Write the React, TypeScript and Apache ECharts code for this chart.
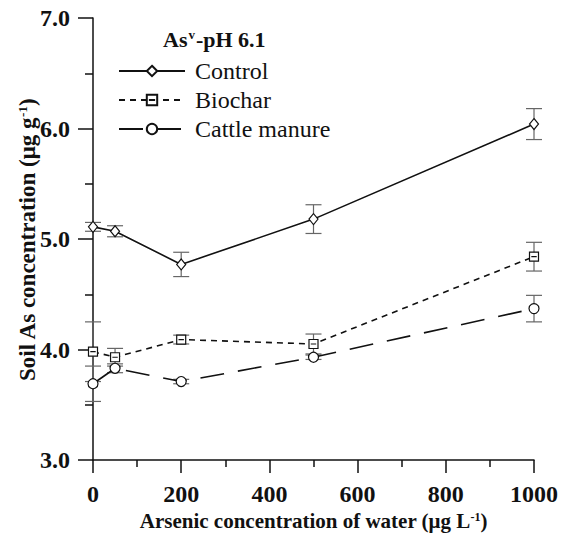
import React, { useEffect, useRef } from "react";
import * as echarts from "echarts";

const xValues = [0, 50, 200, 500, 1000];
const seriesNames = ["Control", "Biochar", "Cattle manure"];
const controlMean = [5.11, 5.07, 4.77, 5.18, 6.04];
const controlErr = [0.04, 0.05, 0.11, 0.13, 0.14];
const biocharMean = [3.98, 3.93, 4.09, 4.05, 4.84];
const biocharErr = [0.27, 0.08, 0.04, 0.09, 0.13];
const manureMean = [3.69, 3.83, 3.71, 3.93, 4.37];
const manureErr = [0.16, 0.04, 0.02, 0.02, 0.12];

const FONT = "Liberation Serif";

export default function App() {
  const ref = useRef<HTMLDivElement>(null);
  useEffect(() => {
    if (!ref.current) return;
    const chart = echarts.init(ref.current, undefined, { renderer: "svg" });

    const means = [controlMean, biocharMean, manureMean];
    const errs = [controlErr, biocharErr, manureErr];
    const symbols = [
      "diamond",
      "path://M0,0L10,0L10,10L0,10Z M2,5L8,5",
      "circle",
    ];
    const symbolSizes: any[] = [[9, 11], 9, 10];
    const dashes: any[] = ["solid", [6, 5], [24, 14]];

    const errorSeries = means.map((m, i) => ({
      type: "custom",
      name: seriesNames[i] + " err",
      silent: true,
      z: 1,
      data: xValues.map((x, k) => [x, m[k] - errs[i][k], m[k] + errs[i][k]]),
      renderItem: (params: any, api: any) => {
        const x = api.value(0);
        const lo = api.coord([x, api.value(1)]);
        const hi = api.coord([x, api.value(2)]);
        const w = 8;
        const style = { stroke: "#666", lineWidth: 1.2 };
        return {
          type: "group",
          children: [
            { type: "line", shape: { x1: hi[0], y1: hi[1], x2: lo[0], y2: lo[1] }, style },
            { type: "line", shape: { x1: hi[0] - w, y1: hi[1], x2: hi[0] + w, y2: hi[1] }, style },
            { type: "line", shape: { x1: lo[0] - w, y1: lo[1], x2: lo[0] + w, y2: lo[1] }, style },
          ],
        };
      },
    }));

    const lineSeries = means.map((m, i) => ({
      type: "line",
      name: seriesNames[i],
      z: 3,
      data: xValues.map((x, k) => [x, m[k]]),
      symbol: symbols[i],
      symbolSize: symbolSizes[i],
      showAllSymbol: true,
      itemStyle: { color: "#fff", borderColor: "#111", borderWidth: 1.2 },
      lineStyle: { color: "#111", width: 1.6, type: dashes[i] },
    }));

    const supStyle = { fontFamily: FONT, fontWeight: "bold", fontSize: 12, color: "#111", verticalAlign: "top", padding: [0, 0, 8, 0] };
    const boldLabel = { fontFamily: FONT, fontWeight: "bold", fontSize: 24, color: "#111" };

    chart.setOption({
      animation: false,
      backgroundColor: "#fff",
      textStyle: { fontFamily: FONT },
      grid: { left: 93, right: 28, top: 18, bottom: 80, containLabel: false },
      graphic: [
        {
          type: "text",
          left: 163,
          top: 28,
          style: {
            text: "{b|As}{s|v}{b|-pH 6.1}",
            rich: {
              b: { fontFamily: FONT, fontWeight: "bold", fontSize: 22, fill: "#111" },
              s: { fontFamily: FONT, fontWeight: "bold", fontSize: 13, fill: "#111", verticalAlign: "top", padding: [0, 1, 8, 1] },
            },
          },
        },
        {
          type: "text",
          x: 27,
          y: 240,
          rotation: Math.PI / 2,
          style: {
            text: "{b|Soil As concentration (μg g}{s|-1}{b|)}",
            align: "center",
            verticalAlign: "middle",
            rich: {
              b: { fontFamily: FONT, fontWeight: "bold", fontSize: 23, fill: "#111" },
              s: { fontFamily: FONT, fontWeight: "bold", fontSize: 13, fill: "#111", verticalAlign: "top", padding: [0, 0, 9, 0] },
            },
          },
        },
      ],
      legend: {
        left: 113,
        top: 54,
        orient: "vertical",
        itemWidth: 66,
        itemHeight: 13,
        itemGap: 5,
        data: seriesNames,
        textStyle: {
          fontFamily: FONT,
          fontSize: 24,
          color: "#111",
          padding: [0, 0, 0, 5],
        },
      },
      xAxis: {
        type: "value",
        min: 0,
        max: 1000,
        interval: 200,
        name: "Arsenic concentration of water (μg L{sup|-1})",
        nameLocation: "middle",
        nameGap: 50,
        nameTextStyle: {
          fontFamily: FONT,
          fontWeight: "bold",
          fontSize: 21,
          color: "#111",
          rich: { sup: supStyle },
        },
        axisLine: { lineStyle: { color: "#111", width: 1.5 } },
        axisTick: { show: true, length: 13, lineStyle: { color: "#111", width: 1.5 } },
        minorTick: { show: true, splitNumber: 2, length: 7, lineStyle: { color: "#111", width: 1.5 } },
        splitLine: { show: false },
        axisLabel: {
          ...boldLabel,
          margin: 22,
          formatter: (v: number) => String(v),
        },
      },
      yAxis: {
        type: "value",
        min: 3,
        max: 7,
        interval: 1,
        axisLine: { lineStyle: { color: "#111", width: 1.5 } },
        axisTick: { show: true, length: 15, lineStyle: { color: "#111", width: 1.5 } },
        minorTick: { show: true, splitNumber: 2, length: 8, lineStyle: { color: "#111", width: 1.5 } },
        splitLine: { show: false },
        axisLabel: {
          ...boldLabel,
          margin: 23,
          formatter: (v: number) => v.toFixed(1),
        },
      },
      series: [...errorSeries, ...lineSeries],
    });
    return () => chart.dispose();
  }, []);
  return (
    <div
      ref={ref}
      style={{ position: "fixed", left: 0, top: 0, width: 562, height: 540, background: "#fff" }}
    />
  );
}
